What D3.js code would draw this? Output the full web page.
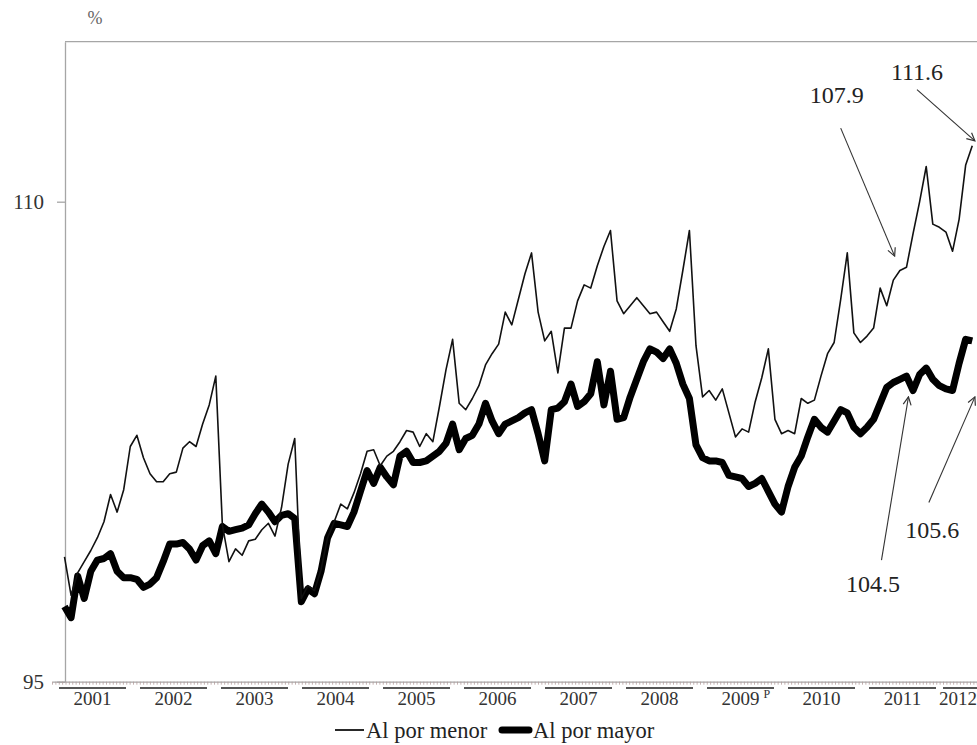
<!DOCTYPE html>
<html>
<head>
<meta charset="utf-8">
<script src="https://cdn.jsdelivr.net/npm/d3@7/dist/d3.min.js"></script>
<style>
    body { margin: 0; background: #fff; }
    svg, svg text { font-family: 'Liberation Serif', 'DejaVu Serif', serif !important; }
</style>
</head>
<body>
<div id="chart1"></div>
<script>
// monthly series, Jan 2001 .. Jul 2012 (index 0 = Jan 2001)
let menor = [
    98.9, 97.7, 98.4, 98.75, 99.1, 99.5, 100.0, 100.85, 100.3, 101.0, 102.35, 102.7,
    102.0, 101.5, 101.25, 101.25, 101.5, 101.55, 102.3, 102.5, 102.35, 103.05, 103.65, 104.55,
    99.9, 98.75, 99.15, 98.95, 99.4, 99.45, 99.75, 99.95, 99.55, 100.45, 101.8, 102.6,
    97.6, 98.0, 97.85, 98.5, 99.5, 100.0, 100.55, 100.4, 100.9, 101.5, 102.2, 102.25,
    101.75, 102.05, 102.2, 102.5, 102.85, 102.8, 102.35, 102.75, 102.5, 103.6, 104.75, 105.7,
    103.7, 103.5, 103.85, 104.25, 104.9, 105.25, 105.55, 106.55, 106.15, 106.95, 107.75, 108.4,
    106.55, 105.65, 105.95, 104.65, 106.05, 106.05, 106.9, 107.4, 107.3, 108.0, 108.6, 109.1,
    106.9, 106.5, 106.75, 107.0, 106.75, 106.5, 106.55, 106.25, 105.95, 106.65, 107.85, 109.1,
    105.5, 103.9, 104.1, 103.8, 104.15, 103.4, 102.65, 102.9, 102.8, 103.75, 104.5, 105.4,
    103.2, 102.75, 102.85, 102.75, 103.85, 103.7, 103.8, 104.55, 105.25, 105.6, 106.95, 108.4,
    105.9, 105.6, 105.8, 106.05, 107.3, 106.75, 107.55, 107.85, 107.95, 109.0, 110.0, 111.1,
    109.3, 109.2, 109.05, 108.45, 109.45, 111.15, 111.75
]

let mayor = [
    97.35, 97.0, 98.3, 97.6, 98.45, 98.8, 98.85, 99.0, 98.45, 98.25, 98.25, 98.2,
    97.95, 98.05, 98.25, 98.75, 99.3, 99.3, 99.35, 99.15, 98.8, 99.25, 99.4, 99.0,
    99.85, 99.7, 99.75, 99.8, 99.9, 100.25, 100.55, 100.3, 100.0, 100.2, 100.25, 100.1,
    97.5, 97.9, 97.75, 98.45, 99.5, 99.95, 99.9, 99.85, 100.3, 100.95, 101.6, 101.2,
    101.7, 101.4, 101.15, 102.05, 102.2, 101.85, 101.85, 101.9, 102.05, 102.2, 102.45, 103.05,
    102.25, 102.6, 102.7, 103.05, 103.7, 103.15, 102.75, 103.05, 103.15, 103.25, 103.4, 103.5,
    102.75, 101.9, 103.5, 103.55, 103.75, 104.3, 103.6, 103.75, 104.0, 105.0, 103.65, 104.7,
    103.2, 103.25, 103.9, 104.45, 105.0, 105.4, 105.3, 105.1, 105.4, 104.95, 104.3, 103.85,
    102.4, 102.0, 101.9, 101.9, 101.85, 101.45, 101.4, 101.35, 101.1, 101.2, 101.35, 100.95,
    100.55, 100.3, 101.1, 101.7, 102.05, 102.65, 103.2, 102.95, 102.8, 103.15, 103.5, 103.4,
    102.95, 102.75, 102.95, 103.2, 103.7, 104.2, 104.35, 104.45, 104.55, 104.1, 104.6, 104.8,
    104.45, 104.25, 104.15, 104.1, 104.95, 105.7, 105.65
]

// category axis groups (years) and how many month slots each shows
let years = ['2001', '2002', '2003', '2004', '2005', '2006', '2007', '2008', '2009', '2010', '2011', '2012']
let yearSlots = [12, 12, 12, 12, 12, 12, 12, 12, 12, 12, 12, 5]
let yTicks = [95, 110]

// annotations in data units: [month index, value]
let notes = [
    {text: '107.9', tip: [126.2, 108.3], tail: [118.0, 112.3], label: [117.4, 113.1]},
    {text: '111.6', tip: [138.4, 111.9], tail: [129.6, 113.5], label: [129.6, 113.8]},
    {text: '104.5', tip: [128.3, 103.9], tail: [124.2, 98.8], label: [122.9, 97.8]},
    {text: '105.6', tip: [138.4, 103.9], tail: [131.4, 100.6], label: [131.9, 99.5]},
]

let serif = "'Liberation Serif', 'DejaVu Serif', serif"
let width = 977
let height = 745
let plot = {left: 65, top: 41.7, bottom: 681.7}

let svg = d3.select('#chart1')
    .append('svg')
    .attr('width', width)
    .attr('height', height)
    .style('font-family', serif)

let x = d3.scaleLinear()
    .domain([0, 138])
    .range([64.5, 64.5 + 138 * 6.578])

let y = d3.scaleLinear()
    .domain([95, 115])
    .range([plot.bottom, plot.top])

let totalSlots = d3.sum(yearSlots)
let xCat = d3.scaleLinear()
    .domain([0, totalSlots])
    .range([52, 52 + totalSlots * 6.75])

// plot frame (top edge)
svg.append('line')
    .attr('x1', plot.left).attr('x2', width + 10)
    .attr('y1', y(115)).attr('y2', y(115))
    .attr('stroke', '#a6a6a6')
    .attr('stroke-width', 1.3)

// y axis
let yAxis = svg.append('g')
    .attr('transform', `translate(${plot.left}, 0)`)
    .call(d3.axisLeft(y).tickValues(yTicks).tickSize(8).tickSizeOuter(0).tickPadding(13))
yAxis.attr('font-family', serif)
yAxis.select('.domain').attr('stroke', '#a6a6a6').attr('stroke-width', 1.3)
yAxis.selectAll('.tick line').attr('stroke', '#a6a6a6').attr('stroke-width', 1.3)
yAxis.selectAll('.tick text')
    .attr('font-size', 21)
    .attr('fill', '#333')
    .style('font-family', serif)

// x axis with small slot ticks
let xAxis = svg.append('g')
    .attr('transform', `translate(0, ${plot.bottom})`)
    .call(d3.axisBottom(xCat)
        .tickValues(d3.range(0, totalSlots + 0.01, 0.5))
        .tickSize(3)
        .tickSizeOuter(0)
        .tickFormat(''))
xAxis.select('.domain').attr('stroke', '#a6a6a6').attr('stroke-width', 1.3)
xAxis.selectAll('.tick line').attr('stroke', '#b49c9c').attr('stroke-width', 0.8)

// year groups: underline + label
let groups = years.map((yr, i) => {
    let start = d3.sum(yearSlots.slice(0, i))
    return {year: yr, start: start, end: start + yearSlots[i], full: yearSlots[i] === 12}
})

svg.selectAll('.year-line')
    .data(groups)
    .join('line')
    .attr('class', 'year-line')
    .attr('x1', d => xCat(d.start) + (d.full ? 7 : 0))
    .attr('x2', d => xCat(d.end) - (d.full ? 7 : -10))
    .attr('y1', 688).attr('y2', 688)
    .attr('stroke', '#555')
    .attr('stroke-width', 2)

svg.selectAll('.year-label')
    .data(groups)
    .join('text')
    .attr('class', 'year-label')
    .attr('x', d => xCat((d.start + d.end) / 2) - (d.full ? 0 : 2))
    .attr('y', 705)
    .attr('text-anchor', 'middle')
    .attr('font-size', 19)
    .attr('fill', '#333')
    .style('font-family', serif)
    .text(d => d.year)

// preliminary mark after 2009
let g2009 = groups[years.indexOf('2009')]
svg.append('text')
    .attr('x', xCat((g2009.start + g2009.end) / 2) + 23)
    .attr('y', 698)
    .attr('font-size', 12)
    .attr('fill', '#333')
    .style('font-family', serif)
    .text('P')

// series lines
let line = d3.line()
    .x((d, i) => x(i))
    .y(d => y(d))

svg.append('path')
    .datum(mayor)
    .attr('fill', 'none')
    .attr('stroke', '#000')
    .attr('stroke-width', 7)
    .attr('stroke-linejoin', 'round')
    .attr('d', line)

svg.append('path')
    .datum(menor)
    .attr('fill', 'none')
    .attr('stroke', '#111')
    .attr('stroke-width', 1.6)
    .attr('stroke-linejoin', 'round')
    .attr('d', line)

// annotations
svg.append('defs').append('marker')
    .attr('id', 'arrow')
    .attr('viewBox', '0 0 10 10')
    .attr('refX', 9).attr('refY', 5)
    .attr('markerWidth', 9).attr('markerHeight', 9)
    .attr('orient', 'auto')
    .append('path')
    .attr('d', 'M1,1 L9,5 L1,9')
    .attr('fill', 'none')
    .attr('stroke', '#333')
    .attr('stroke-width', 1.2)

svg.selectAll('.note-line')
    .data(notes)
    .join('line')
    .attr('class', 'note-line')
    .attr('x1', d => x(d.tail[0])).attr('y1', d => y(d.tail[1]))
    .attr('x2', d => x(d.tip[0])).attr('y2', d => y(d.tip[1]))
    .attr('stroke', '#333')
    .attr('stroke-width', 1.1)
    .attr('marker-end', 'url(#arrow)')

svg.selectAll('.note-text')
    .data(notes)
    .join('text')
    .attr('class', 'note-text')
    .attr('x', d => x(d.label[0]))
    .attr('y', d => y(d.label[1]))
    .attr('text-anchor', 'middle')
    .attr('font-size', 24)
    .attr('fill', '#222')
    .style('font-family', serif)
    .text(d => d.text)

// unit label
svg.append('text')
    .attr('x', 95).attr('y', 24)
    .attr('text-anchor', 'middle')
    .attr('font-size', 18)
    .attr('fill', '#666')
    .style('font-family', serif)
    .text('%')

// legend
let legend = svg.append('g')
legend.append('line')
    .attr('x1', 335).attr('x2', 364)
    .attr('y1', 730).attr('y2', 730)
    .attr('stroke', '#111').attr('stroke-width', 1.8)
legend.append('text')
    .attr('x', 366).attr('y', 738)
    .attr('font-size', 22.5).attr('fill', '#222')
    .style('font-family', serif)
    .text('Al por menor')
legend.append('line')
    .attr('x1', 502).attr('x2', 529)
    .attr('y1', 730).attr('y2', 730)
    .attr('stroke', '#000').attr('stroke-width', 7)
    .attr('stroke-linecap', 'round')
legend.append('text')
    .attr('x', 533).attr('y', 738)
    .attr('font-size', 22.5).attr('fill', '#222')
    .style('font-family', serif)
    .text('Al por mayor')
</script>
</body>
</html>
